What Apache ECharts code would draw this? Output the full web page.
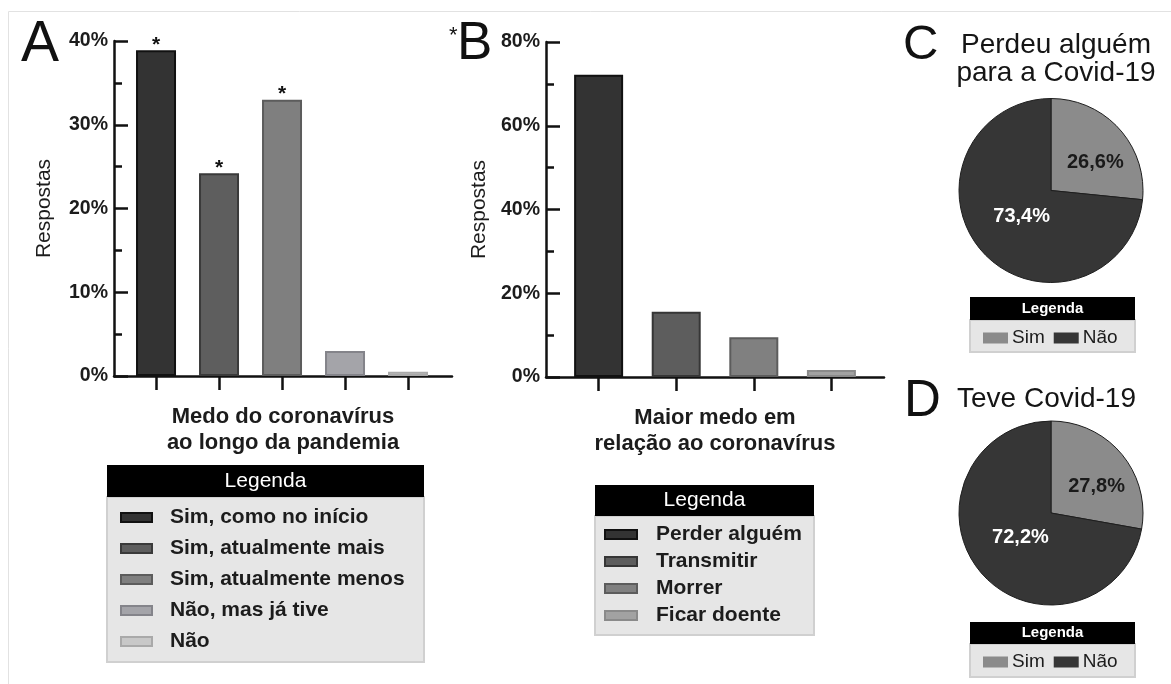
<!DOCTYPE html>
<html>
<head>
<meta charset="utf-8">
<script src="https://cdn.jsdelivr.net/npm/echarts@6/dist/echarts.min.js"></script>
<style>
  html, body { margin: 0; padding: 0; background: #ffffff; }
  #chart { width: 1171px; height: 684px; }
</style>
</head>
<body>
<div id="chart"></div>
<script>
const FONT = '"Liberation Sans", Arial, Helvetica, sans-serif';

// Panel A: medo do coronavírus ao longo da pandemia (% de respostas)
const categoriesA = ['Sim, como no início', 'Sim, atualmente mais', 'Sim, atualmente menos', 'Não, mas já tive', 'Não'];
const valuesA = [38.9, 24.2, 33.0, 3.0, 0.5];
const starsA = ['*', '*', '*', '', ''];
const ticksA = [0, 10, 20, 30, 40];

// Panel B: maior medo em relação ao coronavírus (% de respostas)
const categoriesB = ['Perder alguém', 'Transmitir', 'Morrer', 'Ficar doente'];
const valuesB = [72.2, 15.6, 9.5, 1.7];
const ticksB = [0, 20, 40, 60, 80];

// Panels C and D: pies
const pieNames = ['Sim', 'Não'];
const valuesC = [26.6, 73.4];
const valuesD = [27.8, 72.2];

// Styling
const fillsA = ['#333333', '#5e5e5e', '#7f7f7f', '#a4a4a9', '#c8c8c8'];
const edgesA = ['#111111', '#3a3a3a', '#5c5c5c', '#84848a', '#a9a9a9'];
const fillsB = ['#333333', '#5d5d5d', '#808080', '#a2a2a2'];
const edgesB = ['#111111', '#363636', '#5c5c5c', '#8a8a8a'];
const pieFills = ['#8b8b8b', '#363636'];
const pieLabelColors = ['#1a1a1a', '#ffffff'];
const pieLabelShift = [[8, 5], [7, -7]];

const INK = '#1c1c1c';

function valueYAxis(gridIndex, ticks, name, nameGap) {
  return {
    type: 'value', gridIndex,
    min: ticks[0], max: ticks[ticks.length - 1], interval: ticks[1] - ticks[0],
    name, nameLocation: 'middle', nameGap, nameRotate: 90,
    nameTextStyle: { fontFamily: FONT, fontSize: 21, color: INK },
    axisLine: { show: true, lineStyle: { color: '#111', width: 2.5 } },
    axisTick: { show: true, inside: true, length: 14, lineStyle: { color: '#111', width: 2.5 } },
    minorTick: { show: true, splitNumber: 2, length: 8, lineStyle: { color: '#111', width: 2.5 } },
    axisLabel: { formatter: '{value}%', fontFamily: FONT, fontSize: 19.5, fontWeight: 'bold', color: INK, margin: 6 },
    splitLine: { show: false }
  };
}

function slotXAxis(gridIndex, count, min, max, nameText) {
  const slots = [];
  for (let i = 1; i <= count; i++) slots.push(i);
  return {
    type: 'value', gridIndex, min, max,
    name: nameText, nameLocation: 'middle', nameGap: 28,
    nameTextStyle: { fontFamily: FONT, fontSize: 22, fontWeight: 'bold', color: INK, lineHeight: 26 },
    axisLine: { show: true, onZero: false, lineStyle: { color: '#111', width: 2.5 } },
    axisTick: { show: true, length: 14, customValues: slots, lineStyle: { color: '#111', width: 2.5 } },
    axisLabel: { show: false },
    splitLine: { show: false }
  };
}

const barSeriesA = categoriesA.map((name, i) => ({
  type: 'bar', name, xAxisIndex: 0, yAxisIndex: 0,
  barWidth: 40, barGap: '-100%',
  data: [[i + 1, valuesA[i]]],
  itemStyle: { color: fillsA[i], borderColor: edgesA[i], borderWidth: 2 },
  label: {
    show: starsA[i] !== '', position: 'top', distance: -5,
    formatter: starsA[i] || ' ',
    fontFamily: FONT, fontSize: 21, fontWeight: 'bold', color: '#111'
  },
  silent: true
}));

const barSeriesB = categoriesB.map((name, i) => ({
  type: 'bar', name, xAxisIndex: 1, yAxisIndex: 1,
  barWidth: 49, barGap: '-100%',
  data: [[i + 1, valuesB[i]]],
  itemStyle: { color: fillsB[i], borderColor: edgesB[i], borderWidth: 2 },
  silent: true
}));

function pieSeries(center, values) {
  return {
    type: 'pie', center, radius: 92, startAngle: 90, clockwise: true,
    silent: true,
    data: pieNames.map((n, i) => ({
      name: n, value: values[i],
      itemStyle: { color: pieFills[i] },
      label: { color: pieLabelColors[i], offset: pieLabelShift[i] }
    })),
    itemStyle: { borderColor: '#1e1e1e', borderWidth: 1 },
    label: {
      show: true, position: 'inside',
      formatter: p => p.value.toFixed(1).replace('.', ',') + '%',
      fontFamily: FONT, fontSize: 20, fontWeight: 'bold'
    },
    labelLine: { show: false }
  };
}

function legendBox(x, y, w, h, hh, fs, fw) {
  return [
    { type: 'rect', shape: { x, y: y + hh, width: w, height: h - hh },
      style: { fill: '#e6e6e6', stroke: '#d0d0d0', lineWidth: 2 } },
    { type: 'rect', shape: { x, y, width: w, height: hh }, style: { fill: '#000000' } },
    { type: 'text', x: x + w / 2, y: y + hh / 2,
      style: { text: 'Legenda', fill: '#ffffff', fontFamily: FONT, fontSize: fs, fontWeight: fw || 'normal',
               align: 'center', verticalAlign: 'middle' } }
  ];
}

function label(text, x, y, fs, extra) {
  return { type: 'text', x, y,
    style: Object.assign({ text, fill: '#111', fontFamily: FONT, fontSize: fs,
      align: 'left', verticalAlign: 'middle' }, extra || {}) };
}

const pieLegendData = pieNames.map((n, i) => ({ name: n, itemStyle: { color: pieFills[i], borderWidth: 0 } }));

function pieLegend(top) {
  return {
    left: 983, top, orient: 'horizontal', padding: 0,
    itemWidth: 25, itemHeight: 11, itemGap: 9, icon: 'rect',
    selectedMode: false, data: pieLegendData,
    textStyle: { fontFamily: FONT, fontSize: 19, color: INK, lineHeight: 20, padding: [0, 0, 0, -1] }
  };
}

const option = {
  animation: false,
  backgroundColor: '#ffffff',
  grid: [
    { left: 114, top: 41, width: 338, height: 335 },
    { left: 546, top: 42, width: 338, height: 335 }
  ],
  xAxis: [
    slotXAxis(0, categoriesA.length, 0.333, 0.333 + 338 / 63, 'Medo do coronavírus\nao longo da pandemia'),
    slotXAxis(1, categoriesB.length, 0.322, 0.322 + 338 / 77.6, 'Maior medo em\nrelação ao coronavírus')
  ],
  yAxis: [
    valueYAxis(0, ticksA, 'Respostas', 59),
    valueYAxis(1, ticksB, 'Respostas', 56)
  ],
  legend: [
    {
      left: 120, top: 507, orient: 'vertical', padding: 0,
      itemWidth: 31, itemHeight: 9, itemGap: 10, icon: 'rect', selectedMode: false,
      data: categoriesA,
      textStyle: { fontFamily: FONT, fontSize: 21, fontWeight: 'bold', color: INK, lineHeight: 20, padding: [0, 0, 0, 13] }
    },
    {
      left: 604, top: 524, orient: 'vertical', padding: 0,
      itemWidth: 32, itemHeight: 9, itemGap: 6, icon: 'rect', selectedMode: false,
      data: categoriesB,
      textStyle: { fontFamily: FONT, fontSize: 21, fontWeight: 'bold', color: INK, lineHeight: 20, padding: [0, 0, 0, 14] }
    },
    pieLegend(328),
    pieLegend(652)
  ],
  graphic: [
    // outer frame
    { type: 'rect', shape: { x: 8.5, y: 11.5, width: 1200, height: 700 },
      style: { fill: 'none', stroke: '#e2e2e2', lineWidth: 1 }, z: -10 },
    ...legendBox(107, 465, 317, 197, 32, 21),
    ...legendBox(595, 485, 219, 150, 31, 21),
    ...legendBox(970, 297, 165, 55, 23, 15, 'bold'),
    ...legendBox(970, 622, 165, 55, 22, 15, 'bold'),
    // panel letters
    label('A', 21, 45, 57),
    label('*', 449, 36, 22),
    label('B', 457, 44.5, 53),
    label('C', 903, 45.5, 49),
    label('D', 904, 402, 51),
    // pie titles
    label('Perdeu alguém', 1056, 45, 28, { align: 'center', fill: '#151515' }),
    label('para a Covid-19', 1056, 73, 28, { align: 'center', fill: '#151515' }),
    label('Teve Covid-19', 957, 399, 28, { fill: '#151515' })
  ],
  series: [
    ...barSeriesA,
    ...barSeriesB,
    pieSeries([1051, 190.5], valuesC),
    pieSeries([1051, 513], valuesD)
  ]
};

const chart = echarts.init(document.getElementById('chart'), null, { renderer: 'canvas' });
chart.setOption(option);
</script>
</body>
</html>
